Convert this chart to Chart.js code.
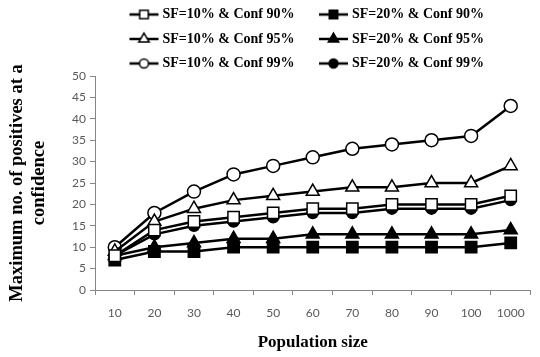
<!DOCTYPE html>
<html>
<head>
<meta charset="utf-8">
<script src="https://cdn.jsdelivr.net/npm/chart.js@4.4.1/dist/chart.umd.min.js"></script>
<style>
  html, body { margin: 0; padding: 0; background: #fff; }
  #wrap { width: 540px; height: 357px; }
</style>
</head>
<body>
<div id="wrap"><canvas id="chart1"></canvas></div>
<script>
const labels = ["10", "20", "30", "40", "50", "60", "70", "80", "90", "100", "1000"];

const sf10conf90 = [8, 14, 16, 17, 18, 19, 19, 20, 20, 20, 22];
const sf20conf90 = [7, 9, 9, 10, 10, 10, 10, 10, 10, 10, 11];
const sf10conf95 = [9, 16, 19, 21, 22, 23, 24, 24, 25, 25, 29];
const sf20conf95 = [8, 10, 11, 12, 12, 13, 13, 13, 13, 13, 14];
const sf10conf99 = [10, 18, 23, 27, 29, 31, 33, 34, 35, 36, 43];
const sf20conf99 = [8, 13, 15, 16, 17, 18, 18, 19, 19, 19, 21];

const serif = "'Liberation Serif', 'Times New Roman', serif";
const sans = "Lato, 'Liberation Sans', sans-serif";
const axisGray = "#868686";
const tickGray = "#595959";

// small line + marker picture for each legend entry
function legendIcon(style, fill, radius) {
  const c = document.createElement("canvas");
  c.width = 48;
  c.height = 20;
  const ctx = c.getContext("2d");
  ctx.strokeStyle = "#000";
  ctx.lineWidth = 2.5;
  ctx.beginPath();
  ctx.moveTo(18, 10);
  ctx.lineTo(47, 10);
  ctx.stroke();
  ctx.fillStyle = fill;
  ctx.lineWidth = 1.5;
  Chart.helpers.drawPoint(ctx, { pointStyle: style, radius: radius, borderWidth: 1.5, rotation: 0 }, 32.5, 10);
  return c;
}

function series(label, data, style, fill, radius, legendRadius) {
  return {
    label: label,
    data: data,
    borderColor: "#000",
    borderWidth: 2.5,
    backgroundColor: fill,
    pointStyle: style,
    pointRadius: radius,
    pointBorderWidth: 1.5,
    pointBorderColor: "#000",
    pointBackgroundColor: fill,
    tension: 0,
    icon: legendIcon(style, fill, legendRadius),
  };
}

const datasets = [
  series("SF=10% & Conf 90%", sf10conf90, "rect", "#fff", 8, 6),
  series("SF=20% & Conf 90%", sf20conf90, "rect", "#000", 8, 6),
  series("SF=10% & Conf 95%", sf10conf95, "triangle", "#fff", 7.5, 6),
  series("SF=20% & Conf 95%", sf20conf95, "triangle", "#000", 7.5, 6),
  series("SF=10% & Conf 99%", sf10conf99, "circle", "#fff", 6.5, 4.5),
  series("SF=20% & Conf 99%", sf20conf99, "circle", "#000", 5.5, 4.5),
];

// nudge the legend block to where the reference has it
const legendShift = {
  id: "legendShift",
  afterLayout(chart) {
    const lg = chart.legend;
    lg.left -= 13;
    lg.right -= 13;
    lg.top += 4.5;
    lg.bottom += 4.5;
  },
};

const ctx1 = document.getElementById("chart1").getContext("2d");
const chart1 = new Chart(ctx1, {
  type: "line",
  data: { labels: labels, datasets: datasets },
  plugins: [legendShift],
  options: {
    responsive: true,
    maintainAspectRatio: false,
    animation: false,
    layout: { padding: { top: -7.5, right: 5, bottom: 0, left: 0 } },
    plugins: {
      tooltip: { enabled: false },
      legend: {
        position: "top",
        fullSize: false,
        labels: {
          usePointStyle: true,
          pointStyleWidth: 40,
          padding: 10.5,
          color: "#000",
          font: { family: serif, size: 14, weight: "bold" },
          generateLabels(chart) {
            return chart.data.datasets.map((ds, i) => ({
              text: ds.label,
              pointStyle: ds.icon,
              fillStyle: ds.backgroundColor,
              strokeStyle: "#000",
              lineWidth: 0,
              hidden: false,
              datasetIndex: i,
              fontColor: "#000",
            }));
          },
        },
      },
    },
    scales: {
      x: {
        offset: true,
        grid: {
          offset: true,
          drawOnChartArea: false,
          drawTicks: true,
          tickLength: 5,
          color: axisGray,
        },
        border: { color: axisGray, width: 1 },
        ticks: {
          color: tickGray,
          font: { family: sans, size: 12 },
          padding: 11,
          maxRotation: 0,
          autoSkip: false,
        },
        title: {
          display: true,
          text: "Population size",
          color: "#000",
          font: { family: serif, size: 17, weight: "bold", lineHeight: 1.2 },
          padding: { top: 0, bottom: 4 },
        },
        afterFit(scale) {
          scale.height = 67;
        },
      },
      y: {
        min: 0,
        max: 50,
        grid: {
          drawOnChartArea: false,
          drawTicks: true,
          tickLength: 5,
          color: axisGray,
        },
        border: { color: axisGray, width: 1 },
        ticks: {
          stepSize: 5,
          color: tickGray,
          font: { family: sans, size: 12 },
          padding: 4,
        },
        title: {
          display: true,
          text: ["Maximum no. of positives at a", "confidence"],
          color: "#000",
          font: { family: serif, size: 18.5, weight: "bold", lineHeight: 1.18 },
          padding: { top: 6, bottom: 0 },
        },
        afterFit(scale) {
          scale.width = 95;
        },
      },
    },
  },
});
</script>
</body>
</html>
